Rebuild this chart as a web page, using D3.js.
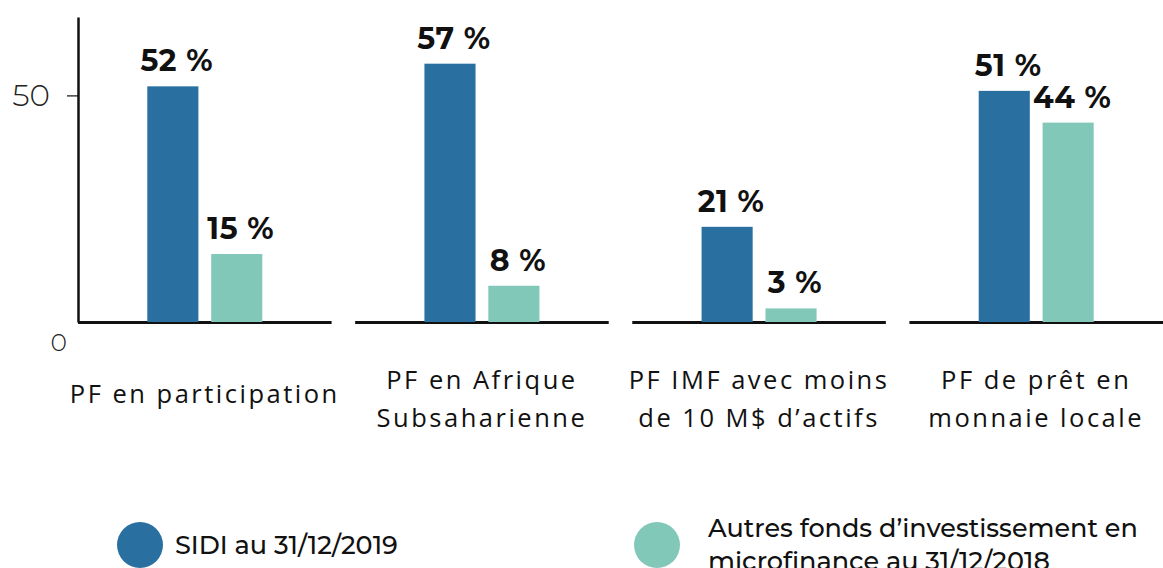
<!DOCTYPE html>
<html>
<head>
<meta charset="utf-8">
<script src="https://cdn.jsdelivr.net/npm/d3@7"></script>
<style>
  html, body { margin: 0; padding: 0; background: #fff; }
  svg { display: block; }
</style>
</head>
<body>
<div id="chart"></div>
<script>
// données
const categories = [
    ['PF en participation'],
    ['PF en Afrique', 'Subsaharienne'],
    ['PF IMF avec moins', 'de 10 M$ d\u2019actifs'],
    ['PF de prêt en', 'monnaie locale']
];
const seriesNames = ['SIDI au 31/12/2019', 'Autres fonds d\u2019investissement en microfinance au 31/12/2018'];
const sidiValues = [52, 57, 21, 51];
const autresValues = [15, 8, 3, 44];
const yTicks = [0, 50];

const colors = ['#2970a1', '#82c8b9'];
const width = 1163;
const height = 568;

const svg = d3.select('#chart').append('svg')
    .attr('width', width)
    .attr('height', height);

const catKeys = categories.map(d => d.join(' '));

// échelles
const x = d3.scaleBand()
    .domain(catKeys)
    .range([78, 1163])
    .paddingInner(0.085)
    .paddingOuter(0);

const xSub = d3.scaleBand()
    .domain([0, 1])
    .range([-57.5, 57.5])
    .paddingInner(0.2);

const y = d3.scaleLinear()
    .domain([0, 67.3])
    .range([322, 17]);

// axe Y
const yAxis = svg.append('g')
    .attr('transform', 'translate(78,0)')
    .call(d3.axisLeft(y).tickValues(yTicks).tickSize(11).tickSizeOuter(0));
yAxis.select('.domain').attr('stroke', '#111').attr('stroke-width', 2.5);
yAxis.selectAll('.tick line').attr('stroke', '#111').attr('stroke-width', 1.2);
yAxis.selectAll('.tick text')
    .attr('font-family', 'Montserrat, Inter, sans-serif')
    .attr('font-weight', 300)
    .attr('font-size', 31)
    .attr('fill', '#222')
    .attr('x', -28);
yAxis.selectAll('.tick').filter(d => d === 0).select('line').remove();
yAxis.selectAll('.tick').filter(d => d === 0).select('text')
    .attr('x', -11).attr('dy', '0.32em').attr('y', 20)
    .attr('font-size', 25);

const groups = svg.selectAll('g.cat')
    .data(catKeys.map((k, i) => ({ key: k, i: i })))
    .enter()
    .append('g')
    .attr('class', 'cat');

// lignes de base par catégorie
groups.append('line')
    .attr('x1', d => x(d.key))
    .attr('x2', d => x(d.key) + x.bandwidth())
    .attr('y1', y(0) + 0.5)
    .attr('y2', y(0) + 0.5)
    .attr('stroke', '#111')
    .attr('stroke-width', 3);

const data = [sidiValues, autresValues];

groups.each(function (g) {
    const cx = x(g.key) + x.bandwidth() / 2;
    const sel = d3.select(this);
    data.forEach((vals, s) => {
        const v = vals[g.i];
        sel.append('rect')
            .attr('x', cx + xSub(s))
            .attr('y', y(v))
            .attr('width', xSub.bandwidth())
            .attr('height', y(0) - y(v))
            .attr('fill', colors[s]);
        sel.append('text')
            .attr('x', cx + xSub(s) + xSub.bandwidth() / 2 + 4)
            .attr('y', y(v) - 15)
            .attr('text-anchor', 'middle')
            .attr('font-family', 'Montserrat, Inter, sans-serif')
            .attr('font-weight', 700)
            .attr('font-size', 30)
            .attr('letter-spacing', 0.6)
            .attr('fill', '#111')
            .text(v + ' %');
    });
    // libellés
    const lines = categories[g.i];
    const y0 = lines.length === 1 ? 403 : 389;
    lines.forEach((t, j) => {
        sel.append('text')
            .attr('x', cx)
            .attr('y', y0 + j * 38)
            .attr('text-anchor', 'middle')
            .attr('font-family', '"Open Sans", sans-serif')
            .attr('font-size', 25.5)
            .attr('letter-spacing', 2.5)
            .attr('fill', '#111')
            .text(t);
    });
});

// légende
const legend = svg.append('g');
const legendItems = [
    { cx: 140, tx: 175, lines: [seriesNames[0]], ty: [554] },
    { cx: 657, tx: 708, lines: ['Autres fonds d\u2019investissement en', 'microfinance au 31/12/2018'], ty: [537, 570] }
];
legendItems.forEach((it, i) => {
    legend.append('ellipse')
        .attr('cx', it.cx)
        .attr('cy', 545)
        .attr('rx', 23)
        .attr('ry', 23)
        .attr('fill', colors[i]);
    it.lines.forEach((t, j) => {
        legend.append('text')
            .attr('x', it.tx)
            .attr('y', it.ty[j])
            .attr('font-family', 'Montserrat, Inter, sans-serif')
            .attr('font-weight', 500)
            .attr('font-size', 25.5)
            .attr('fill', '#111')
            .text(t);
    });
});
</script>
</body>
</html>
